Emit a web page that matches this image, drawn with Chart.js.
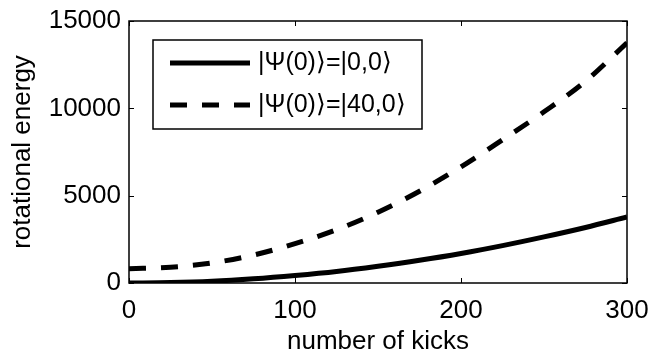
<!DOCTYPE html>
<html>
<head>
<meta charset="utf-8">
<script src="https://cdn.jsdelivr.net/npm/chart.js@4/dist/chart.umd.min.js"></script>
<style>
  html, body { margin: 0; padding: 0; background: #fff; }
  #wrap { width: 663px; height: 349px; }
</style>
</head>
<body>
<div id="wrap"><canvas id="myChart"></canvas></div>
<script>
const kicks = [0, 25, 50, 75, 100, 125, 150, 175, 200, 225, 250, 275, 300];
const energyGround = [0, 25, 100, 240, 430, 660, 960, 1300, 1690, 2140, 2640, 3180, 3780];
const energyExcited = [820, 900, 1150, 1600, 2250, 3050, 4050, 5250, 6650, 8200, 9800, 11550, 13750];
const seriesLabels = ['|\u03A8(0)\u27E9=|0,0\u27E9', '|\u03A8(0)\u27E9=|40,0\u27E9'];
const xTickStep = 100;
const yTickStep = 5000;

const FONT = "'Liberation Sans', Arial, sans-serif";

const toPoints = (ys) => kicks.map((k, i) => ({ x: k, y: ys[i] }));

// box around the plot with inward tick marks on all four sides
const frame = {
    id: 'frame',
    afterDatasetsDraw(chart) {
        const { ctx, chartArea: a, scales: { x, y } } = chart;
        const len = 5;
        ctx.save();
        ctx.strokeStyle = '#000';
        ctx.lineWidth = 1;
        ctx.beginPath();
        x.ticks.forEach(t => {
            const px = Math.round(x.getPixelForValue(t.value)) + 0.5;
            ctx.moveTo(px, a.bottom); ctx.lineTo(px, a.bottom - len);
            ctx.moveTo(px, a.top); ctx.lineTo(px, a.top + len);
        });
        y.ticks.forEach(t => {
            const py = Math.round(y.getPixelForValue(t.value)) + 0.5;
            ctx.moveTo(a.left, py); ctx.lineTo(a.left + len, py);
            ctx.moveTo(a.right, py); ctx.lineTo(a.right - len, py);
        });
        ctx.stroke();
        ctx.lineWidth = 1.5;
        ctx.strokeRect(a.left, a.top, a.right - a.left, a.bottom - a.top);
        ctx.restore();
    }
};

// boxed legend inside the upper left of the plot
const boxLegend = {
    id: 'boxLegend',
    afterDraw(chart) {
        const { ctx, chartArea: a } = chart;
        const left = a.left + 24, top = a.top + 19, w = 269, h = 89;
        ctx.save();
        ctx.fillStyle = '#fff';
        ctx.fillRect(left, top, w, h);
        ctx.strokeStyle = '#000';
        ctx.lineWidth = 1.5;
        ctx.strokeRect(left, top, w, h);
        chart.data.datasets.forEach((ds, i) => {
            const ly = top + 23 + i * 42;
            ctx.beginPath();
            ctx.lineWidth = ds.borderWidth;
            ctx.setLineDash(ds.borderDash || []);
            ctx.moveTo(left + 17, ly);
            ctx.lineTo(left + 97, ly);
            ctx.stroke();
            ctx.setLineDash([]);
            ctx.fillStyle = '#000';
            ctx.font = '25px ' + FONT;
            ctx.textBaseline = 'middle';
            ctx.fillText(ds.label, left + 105, ly);
        });
        ctx.restore();
    }
};

const data = {
    datasets: [{
        label: seriesLabels[0],
        data: toPoints(energyGround),
        borderColor: '#000',
        borderWidth: 5,
        pointRadius: 0,
        cubicInterpolationMode: 'monotone',
        fill: false
    }, {
        label: seriesLabels[1],
        data: toPoints(energyExcited),
        borderColor: '#000',
        borderWidth: 5,
        borderDash: [17, 15],
        pointRadius: 0,
        cubicInterpolationMode: 'monotone',
        fill: false
    }]
};

const config = {
    type: 'line',
    data: data,
    options: {
        responsive: true,
        maintainAspectRatio: false,
        animation: false,
        layout: { padding: { top: 21, right: 36, left: 0, bottom: 0 } },
        plugins: {
            legend: { display: false },
            tooltip: { enabled: false }
        },
        scales: {
            x: {
                type: 'linear',
                min: 0,
                max: 300,
                ticks: {
                    stepSize: xTickStep,
                    color: '#000',
                    font: { family: FONT, size: 26 },
                    padding: 4,
                    maxRotation: 0,
                    callback: v => String(v)
                },
                grid: { display: false },
                border: { display: false },
                title: {
                    display: true,
                    text: 'number of kicks',
                    color: '#000',
                    font: { family: FONT, size: 26, lineHeight: 1 },
                    padding: { top: 0, bottom: -6 }
                },
                afterFit(scale) { scale.height = 66; }
            },
            y: {
                min: 0,
                max: 15000,
                ticks: {
                    stepSize: yTickStep,
                    color: '#000',
                    font: { family: FONT, size: 26 },
                    padding: 0,
                    callback: v => String(v)
                },
                grid: { display: false },
                border: { display: false },
                title: {
                    display: true,
                    text: 'rotational energy',
                    color: '#000',
                    font: { family: FONT, size: 26, lineHeight: 1 },
                    padding: { top: 10, bottom: 0 }
                },
                afterFit(scale) { scale.width = 129; }
            }
        }
    },
    plugins: [frame, boxLegend]
};

const ctx = document.getElementById('myChart').getContext('2d');
new Chart(ctx, config);
</script>
</body>
</html>
